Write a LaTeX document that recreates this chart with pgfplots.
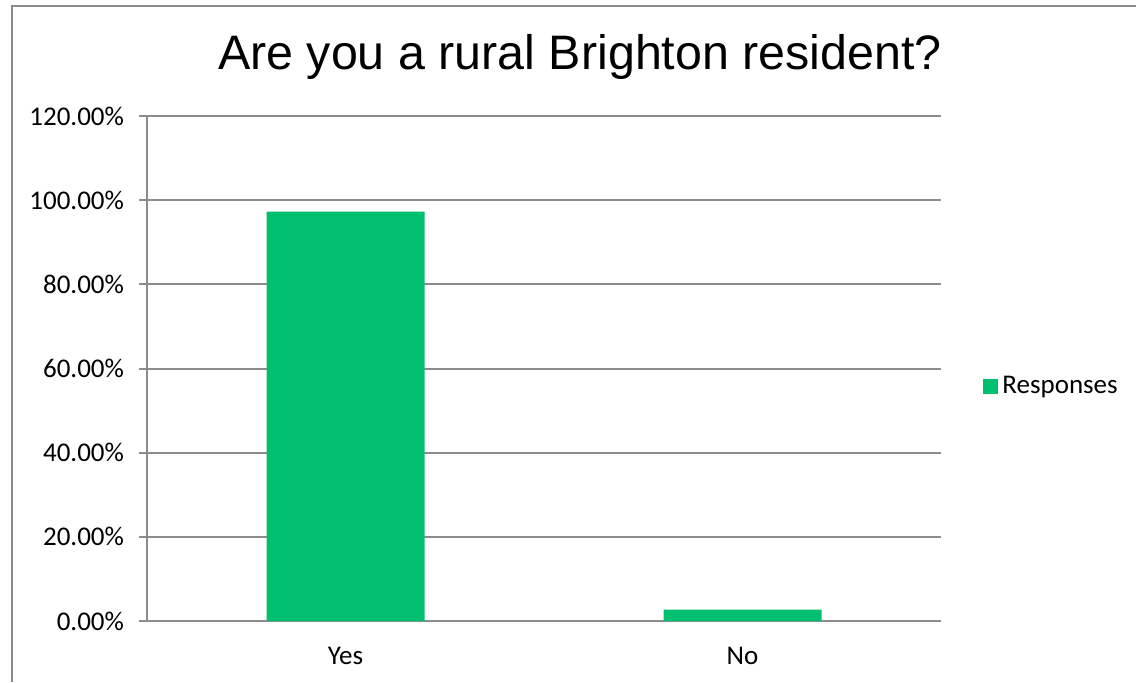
\documentclass[border=0pt]{standalone}
\usepackage{pgfplots}
\pgfplotsset{compat=1.18}
\usepackage{fontspec}
\setmainfont{Carlito}
\newfontfamily\titlefont{Liberation Sans}
\definecolor{barGreen}{RGB}{0,191,111}
\definecolor{lineGray}{RGB}{140,140,140}
\begin{document}
\begin{tikzpicture}
\useasboundingbox (0,0) rectangle (568pt,341pt);
% outer chart frame (only left and top visible)
\draw[lineGray, line width=1pt] (6pt,0) -- (6pt,338pt) -- (568pt,338pt);
\node[anchor=base, font=\titlefont\fontsize{24.2pt}{28pt}\selectfont] at (290pt,306pt) {Are you a rural Brighton resident?};
\begin{axis}[
    at={(73.5pt,30.5pt)}, anchor=south west,
    scale only axis,
    width=397pt, height=252.5pt,
    ybar, bar width=79pt,
    xmin=-0.5, xmax=1.5,
    ymin=0, ymax=120,
    axis x line*=bottom, axis y line*=left,
    axis line style={lineGray, line width=1pt},
    xtick={0,1}, xticklabels={Yes, No},
    major x tick style={draw=none},
    extra x ticks={-0.5,0.5,1.5}, extra x tick labels={},
    extra x tick style={major tick length=4pt, tick style={lineGray, line width=1pt}, grid=none},
    ytick={0,20,40,60,80,100,120},
    yticklabels={0.00\%,20.00\%,40.00\%,60.00\%,80.00\%,100.00\%,120.00\%},
    tick align=outside,
    major tick length=4pt,
    tick style={lineGray, line width=1pt},
    ymajorgrids=true,
    grid style={lineGray, line width=1pt},
    ticklabel style={font=\fontsize{13.5pt}{16pt}\selectfont, text=black},
    yticklabel style={xshift=-4pt},
    xticklabel style={yshift=-5.5pt},
    legend style={at={(1.0529,0.4653)}, anchor=west, draw=none, fill=none,
        font=\fontsize{13.5pt}{16pt}\selectfont, inner sep=0pt},
    legend image code/.code={\fill[barGreen] (0pt,-3.75pt) rectangle (7.5pt,3.75pt);},
]
\addplot[fill=barGreen, draw=none] coordinates {(0,97.3) (1,2.7)};
\addlegendentry{Responses}
\end{axis}
\end{tikzpicture}
\end{document}
